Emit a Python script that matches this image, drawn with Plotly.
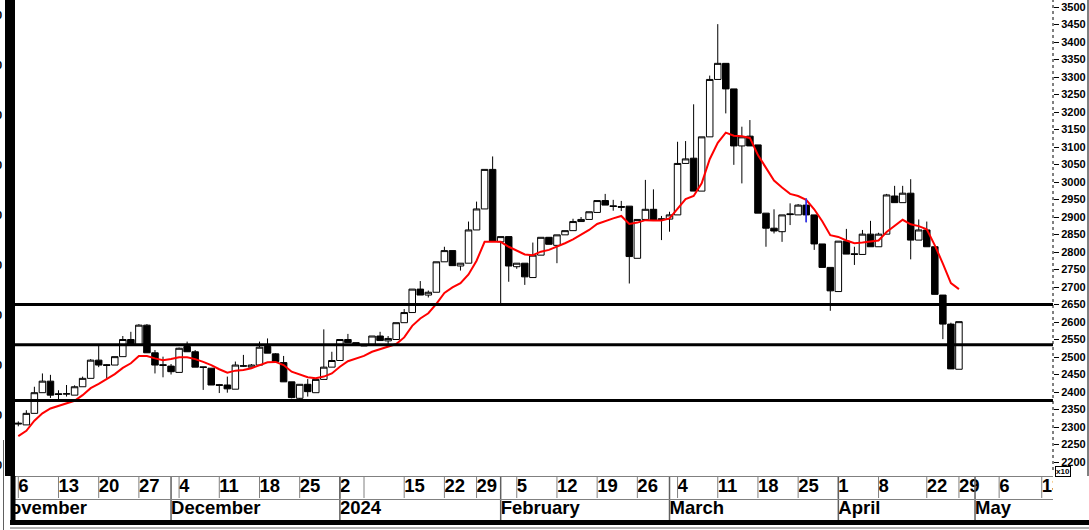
import plotly.graph_objects as go

# ---------------- data ----------------
opens = [2311, 2306, 2339, 2398, 2431, 2395, 2394, 2391, 2415, 2439,
         2491, 2478, 2477, 2501, 2550, 2534, 2591, 2512, 2478, 2474,
         2456, 2530, 2515, 2472, 2468, 2421, 2420, 2408, 2475, 2471,
         2477, 2530, 2509, 2484, 2429, 2382, 2422, 2398, 2436, 2471,
         2490, 2550, 2541, 2535, 2536, 2560, 2546, 2550, 2598, 2627,
         2694, 2677, 2685, 2772, 2804, 2760, 2768, 2863, 2923, 3036,
         2829, 2844, 2758, 2768, 2727, 2791, 2842, 2819, 2849, 2861,
         2887, 2893, 2913, 2947, 2932, 2930, 2931, 2782, 2893, 2922,
         2895, 2894, 2906, 3053, 3068, 2974, 3129, 3293, 3339, 3266,
         3103, 3131, 3106, 2911, 2868, 2858, 2909, 2906, 2934, 2906,
         2823, 2756, 2687, 2831, 2795, 2793, 2851, 2815, 2851, 2960,
         2941, 2968, 2834, 2863, 2815, 2677, 2594, 2465]
highs = [2316, 2348, 2415, 2453, 2449, 2405, 2420, 2419, 2444, 2494,
         2534, 2480, 2501, 2560, 2572, 2594, 2594, 2520, 2501, 2480,
         2527, 2544, 2520, 2472, 2468, 2423, 2444, 2487, 2506, 2480,
         2544, 2553, 2511, 2503, 2429, 2422, 2437, 2436, 2579, 2515,
         2550, 2566, 2541, 2535, 2560, 2572, 2560, 2598, 2637, 2694,
         2717, 2690, 2772, 2815, 2804, 2768, 2887, 2944, 3036, 3073,
         2844, 2844, 2768, 2768, 2827, 2842, 2842, 2849, 2861, 2895,
         2900, 2915, 2947, 2966, 2949, 2946, 2931, 2893, 3006, 2979,
         2903, 2915, 3115, 3117, 3222, 3129, 3304, 3451, 3339, 3266,
         3158, 3177, 3106, 2911, 2922, 2906, 2939, 2937, 2953, 2906,
         2823, 2756, 2831, 2866, 2815, 2863, 2889, 2855, 2966, 2989,
         2989, 3008, 2893, 2887, 2815, 2677, 2598, 2601]
lows = [2302, 2306, 2339, 2398, 2383, 2380, 2387, 2391, 2415, 2439,
        2471, 2440, 2477, 2501, 2534, 2534, 2512, 2453, 2442, 2450,
        2456, 2515, 2471, 2406, 2420, 2397, 2398, 2408, 2472, 2471,
        2477, 2511, 2487, 2429, 2382, 2378, 2387, 2398, 2436, 2471,
        2490, 2541, 2534, 2532, 2536, 2547, 2534, 2550, 2598, 2627,
        2677, 2670, 2685, 2772, 2761, 2747, 2768, 2863, 2923, 2831,
        2649, 2715, 2752, 2706, 2727, 2791, 2822, 2768, 2849, 2861,
        2887, 2893, 2913, 2934, 2918, 2917, 2710, 2782, 2893, 2891,
        2834, 2858, 2906, 3053, 2974, 2974, 3129, 3293, 3196, 3049,
        2996, 3103, 2911, 2815, 2853, 2829, 2877, 2906, 2885, 2806,
        2756, 2632, 2687, 2794, 2763, 2793, 2815, 2815, 2851, 2941,
        2941, 2779, 2834, 2815, 2679, 2551, 2466, 2465]
closes = [2309, 2339, 2398, 2431, 2391, 2393, 2395, 2415, 2439, 2491,
          2477, 2476, 2501, 2550, 2534, 2591, 2512, 2477, 2476, 2458,
          2525, 2515, 2471, 2470, 2420, 2419, 2409, 2477, 2474, 2477,
          2528, 2511, 2487, 2429, 2384, 2422, 2401, 2436, 2471, 2490,
          2550, 2541, 2534, 2532, 2560, 2547, 2553, 2598, 2627, 2694,
          2677, 2685, 2772, 2804, 2761, 2768, 2863, 2923, 3036, 2831,
          2844, 2760, 2768, 2729, 2791, 2842, 2822, 2849, 2861, 2887,
          2893, 2915, 2947, 2934, 2930, 2928, 2787, 2893, 2922, 2891,
          2893, 2906, 3053, 3066, 2974, 3129, 3293, 3339, 3266, 3103,
          3129, 3103, 2911, 2868, 2860, 2906, 2907, 2934, 2906, 2823,
          2756, 2689, 2831, 2794, 2793, 2851, 2815, 2851, 2963, 2941,
          2968, 2834, 2863, 2815, 2679, 2594, 2466, 2601]
ma_line = [2274, 2289, 2318, 2339, 2353, 2361, 2368, 2375, 2391, 2411,
           2423, 2436, 2451, 2469, 2482, 2503, 2503, 2496, 2491, 2494,
           2499, 2499, 2494, 2486, 2477, 2465, 2455, 2461, 2463, 2468,
           2477, 2485, 2486, 2477, 2458, 2449, 2442, 2439, 2444, 2453,
           2472, 2488, 2496, 2503, 2515, 2522, 2528, 2537, 2556, 2589,
           2610, 2625, 2652, 2683, 2699, 2711, 2736, 2775, 2829, 2829,
           2829, 2815, 2804, 2793, 2791, 2801, 2806, 2815, 2825, 2836,
           2849, 2863, 2880, 2889, 2896, 2903, 2880, 2884, 2891, 2890,
           2890, 2896, 2925, 2951, 2960, 2996, 3065, 3112, 3141, 3132,
           3131, 3126, 3077, 3039, 3004, 2984, 2966, 2960, 2949, 2922,
           2888, 2848, 2843, 2833, 2825, 2827, 2829, 2833, 2857, 2874,
           2892, 2879, 2874, 2865, 2819, 2767, 2711, 2694]
levels = [2650, 2535, 2376]
highlight_bar = 98

day_tick_pos = [0, 5, 10, 15, 20, 25, 30, 35, 40, 43, 48, 53, 57, 62, 67,
                72, 77, 82, 87, 92, 97, 102, 107, 113, 117, 122, 127.3]
day_tick_text = ["6", "13", "20", "27", "4", "11", "18", "25", "2", "", "15",
                 "22", "29", "5", "12", "19", "26", "4", "11", "18", "25",
                 "1", "8", "22", "29", "6", "13"]
month_pos = [-2.7, 19, 40, 60, 81, 102, 119]
month_text = ["November", "December", "2024", "February", "March", "April", "May"]
y_ticks = [2200, 2250, 2300, 2350, 2400, 2450, 2500, 2550, 2600, 2650, 2700,
           2750, 2800, 2850, 2900, 2950, 3000, 3050, 3100, 3150, 3200, 3250,
           3300, 3350, 3400, 3450, 3500]
left_fragments = ["0"] * 10

# ---------------- layout geometry ----------------
W, H = 1089, 530
L_PX, R_PX = 15, 1053
PLOT_BOTTOM, LABEL_BOTTOM = 476, 520
FONT = "Liberation Sans"


def pxx(p):
    return (p - L_PX) / (R_PX - L_PX)


def pxy(p):
    return (H - p) / H


x = list(range(len(closes)))

fig = go.Figure()
fig.add_trace(go.Candlestick(
    x=x, open=opens, high=highs, low=lows, close=closes,
    increasing=dict(fillcolor="white", line=dict(color="black", width=1)),
    decreasing=dict(fillcolor="black", line=dict(color="black", width=1)),
    whiskerwidth=0, showlegend=False, xaxis="x", yaxis="y"))
fig.add_trace(go.Scatter(
    x=x, y=ma_line, mode="lines", line=dict(color="#ff0000", width=2),
    showlegend=False, xaxis="x", yaxis="y"))
fig.add_trace(go.Scatter(
    x=[x[highlight_bar], x[highlight_bar]],
    y=[lows[highlight_bar], highs[highlight_bar]],
    mode="lines", line=dict(color="#3030ff", width=1.5),
    showlegend=False, xaxis="x", yaxis="y"))

# bottom label rows (second subplot sharing x)
fig.add_trace(go.Scatter(
    x=day_tick_pos, y=[1.5] * len(day_tick_pos), mode="text",
    text=day_tick_text, textposition="middle right",
    textfont=dict(family=FONT, size=18.5, color="black", weight="bold"),
    cliponaxis=True, hoverinfo="skip", showlegend=False,
    xaxis="x2", yaxis="y2"))
fig.add_trace(go.Scatter(
    x=month_pos, y=[0.5] * len(month_pos), mode="text",
    text=month_text, textposition="middle right",
    textfont=dict(family=FONT, size=18.5, color="black", weight="bold"),
    cliponaxis=True, hoverinfo="skip", showlegend=False,
    xaxis="x2", yaxis="y2"))

shapes = []
for lv in levels:
    shapes.append(dict(type="line", xref="paper", yref="y", x0=0, x1=1,
                       y0=lv, y1=lv, line=dict(color="black", width=3)))
for p in day_tick_pos:
    shapes.append(dict(type="line", xref="x2", yref="y2", x0=p, x1=p,
                       y0=1, y1=2, line=dict(color="#808080", width=1)))
for p in month_pos:
    shapes.append(dict(type="line", xref="x2", yref="y2", x0=p, x1=p,
                       y0=0, y1=2, line=dict(color="#606060", width=1.5)))
# row borders
for yy in (PLOT_BOTTOM + 0.5, 499.5):
    shapes.append(dict(type="line", xref="paper", yref="paper", x0=0, x1=1,
                       y0=pxy(yy), y1=pxy(yy), line=dict(color="#808080", width=1)))
# thick bottom bar and thin line under it
shapes.append(dict(type="rect", xref="paper", yref="paper", x0=pxx(10), x1=pxx(W),
                   y0=pxy(525), y1=pxy(LABEL_BOTTOM), fillcolor="black", line=dict(width=0)))
shapes.append(dict(type="line", xref="paper", yref="paper", x0=pxx(10), x1=pxx(W),
                   y0=pxy(528), y1=pxy(528), line=dict(color="#606060", width=1)))
# left thick bar
shapes.append(dict(type="rect", xref="paper", yref="paper", x0=pxx(5), x1=pxx(15),
                   y0=pxy(PLOT_BOTTOM), y1=1, fillcolor="black", line=dict(width=0)))
shapes.append(dict(type="rect", xref="paper", yref="paper", x0=pxx(10.5), x1=pxx(15.5),
                   y0=pxy(525), y1=pxy(PLOT_BOTTOM), fillcolor="black", line=dict(width=0)))
shapes.append(dict(type="line", xref="paper", yref="paper", x0=pxx(3.5), x1=pxx(3.5),
                   y0=pxy(H), y1=pxy(440), line=dict(color="#606060", width=1)))
# dotted right axis and right border
shapes.append(dict(type="line", xref="paper", yref="paper", x0=1, x1=1,
                   y0=pxy(470), y1=1, line=dict(color="black", width=1, dash="dot")))
shapes.append(dict(type="line", xref="paper", yref="paper", x0=pxx(1088), x1=pxx(1088),
                   y0=pxy(PLOT_BOTTOM), y1=1, line=dict(color="black", width=1)))

annotations = [dict(text="x10", xref="paper", yref="paper", x=pxx(1055), y=pxy(471.5),
                    xanchor="left", yanchor="middle", showarrow=False,
                    font=dict(family=FONT, size=8, color="black", weight="bold"),
                    bordercolor="black", borderwidth=1, borderpad=0)]
for k, t in enumerate(left_fragments):
    annotations.append(dict(text=t, xref="paper", yref="paper", x=pxx(3.5),
                            y=pxy(15 + 50 * k), xanchor="right", yanchor="middle",
                            showarrow=False,
                            font=dict(family=FONT, size=11, color="black", weight="bold")))

fig.update_layout(
    width=W, height=H,
    margin=dict(l=L_PX, r=W - R_PX, t=0, b=0, autoexpand=False),
    paper_bgcolor="white", plot_bgcolor="white",
    boxgap=0.1, boxgroupgap=0.1,
    showlegend=False, hovermode=False,
    xaxis=dict(domain=[0, 1], range=[-0.41, 128.7], visible=False,
               rangeslider=dict(visible=False), anchor="y"),
    yaxis=dict(domain=[pxy(PLOT_BOTTOM), 1], range=[2160, 3520], side="right",
               tickmode="array", tickvals=y_ticks, ticktext=[str(v) for v in y_ticks],
               ticks="outside", ticklen=5, tickwidth=1, tickcolor="black",
               showgrid=False, zeroline=False, showline=False, anchor="x",
               tickfont=dict(family=FONT, size=11, color="black", weight="bold")),
    xaxis2=dict(domain=[0, 1], matches="x", visible=False, anchor="y2",
                rangeslider=dict(visible=False)),
    yaxis2=dict(domain=[pxy(LABEL_BOTTOM), pxy(PLOT_BOTTOM)], range=[0, 2],
                visible=False, anchor="x2"),
    shapes=shapes, annotations=annotations,
)

fig.write_html(
    "out.html",
    config={"displayModeBar": False},
    post_script="document.body.style.margin='0px';document.body.style.overflow='hidden';",
)
